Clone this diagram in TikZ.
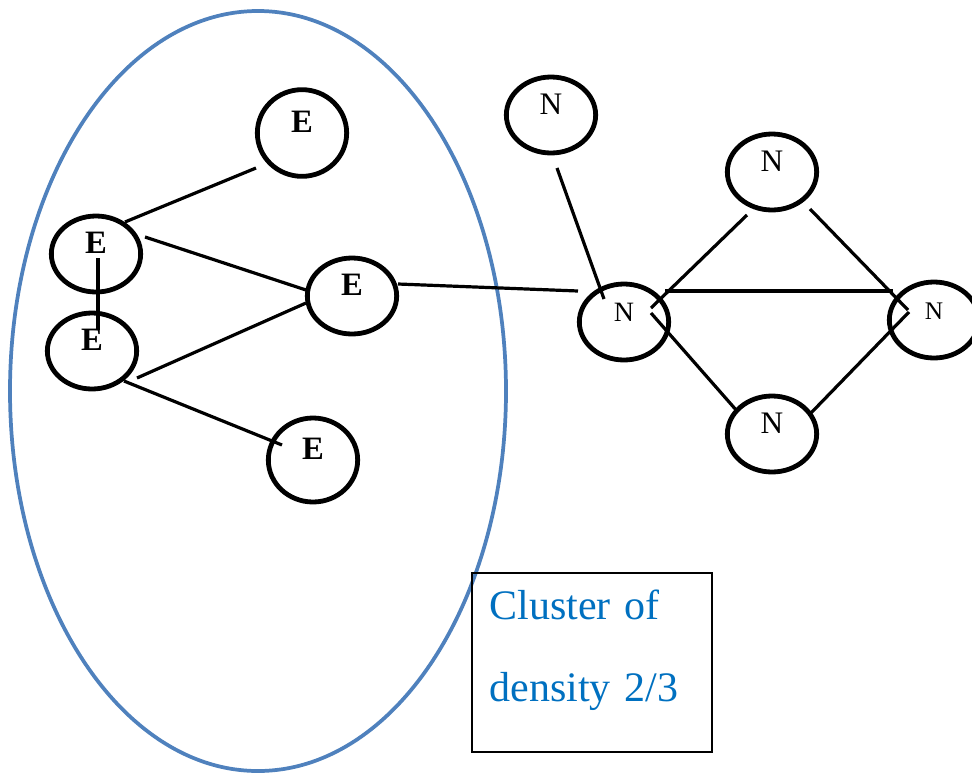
\documentclass[tikz,border=0pt]{standalone}
\usepackage{fontspec}
\setmainfont{Liberation Serif}
\usetikzlibrary{shapes.geometric,calc}

\definecolor{clusterblue}{RGB}{79,129,189}
\definecolor{textblue}{RGB}{0,112,192}

\tikzset{every picture/.style={line width=0.75pt}}
\tikzset{
  vertex/.style={ellipse, draw, line width=3.6pt, inner sep=0pt, minimum width=67pt, minimum height=57pt, text height=15pt, text depth=16pt},
  enode/.style={vertex, font=\fontsize{24.5}{26}\selectfont\bfseries},
  nnode/.style={vertex, font=\fontsize{23.5}{25}\selectfont},
  link/.style={line width=2.4pt},
  clusterbox/.style={draw, line width=1.6pt, anchor=north west, minimum width=180pt, minimum height=134pt, inner xsep=13pt, text width=154pt, align=left, text=textblue, font=\fontsize{31.5}{61.5}\selectfont}
}

\begin{document}
\begin{tikzpicture}[x=0.75pt,y=0.75pt,yscale=-1,xscale=1]
	\path[use as bounding box] (0,0) rectangle (972,772);

	%Shape: Ellipse (cluster)
	\draw[clusterblue, line width=2.8pt] (258,391) ellipse [x radius=248, y radius=380];

	%Nodes E
	\node[enode, minimum height=65pt] (et) at (302,133) {E};
	\node[enode] (eu) at (96,254) {E};
	\node[enode] (el) at (92,351) {E};
	\node[enode] (em) at (352,296) {E};
	\node[enode, minimum height=63pt] (eb) at (313,460) {E};
	%Nodes N
	\node[nnode] (nt) at (551,115) {N};
	\node[nnode, font=\fontsize{21}{24}\selectfont] (nc) at (624,322) {N};
	\node[nnode] (ntr) at (772,172) {N};
	\node[nnode, font=\fontsize{19}{21}\selectfont] (nr) at (934,320) {N};
	\node[nnode] (nb) at (772,434) {N};

	%Straight Lines
	\draw[link] ($(eu)+(29,-32)$) -- ($(et)+(-46,35)$);
	\draw[link] ($(eu)+(49,-17)$) -- ($(em)+(-46,-6)$);
	\draw[link] ($(eu)+(2,4)$) -- ($(el)+(6,-21)$);
	\draw[link] ($(el)+(45,27)$) -- ($(em)+(-46,7)$);
	\draw[link] ($(el)+(32,30)$) -- ($(eb)+(-31,-15)$);
	\draw[link] ($(em)+(46,-12)$) -- ($(nc)+(-46,-31)$);
	\draw[link] ($(nt)+(6,53)$) -- ($(nc)+(-20,-23)$);
	\draw[link] ($(nc)+(27,-14)$) -- ($(ntr)+(-25,43)$);
	\draw[link] ($(nc)+(41,-31)$) -- ($(nr)+(-41,-29)$);
	\draw[link] ($(ntr)+(38,37)$) -- ($(nr)+(-26,-10)$);
	\draw[link] ($(nc)+(27,-9)$) -- ($(nb)+(-35,-23)$);
	\draw[link] ($(nr)+(-25,-8)$) -- ($(nb)+(38,-20)$);

	% Text Node
	\node[clusterbox] (box) at (471,572) {Cluster of\\density 2/3\par\vspace{18pt}};

\end{tikzpicture}
\end{document}
